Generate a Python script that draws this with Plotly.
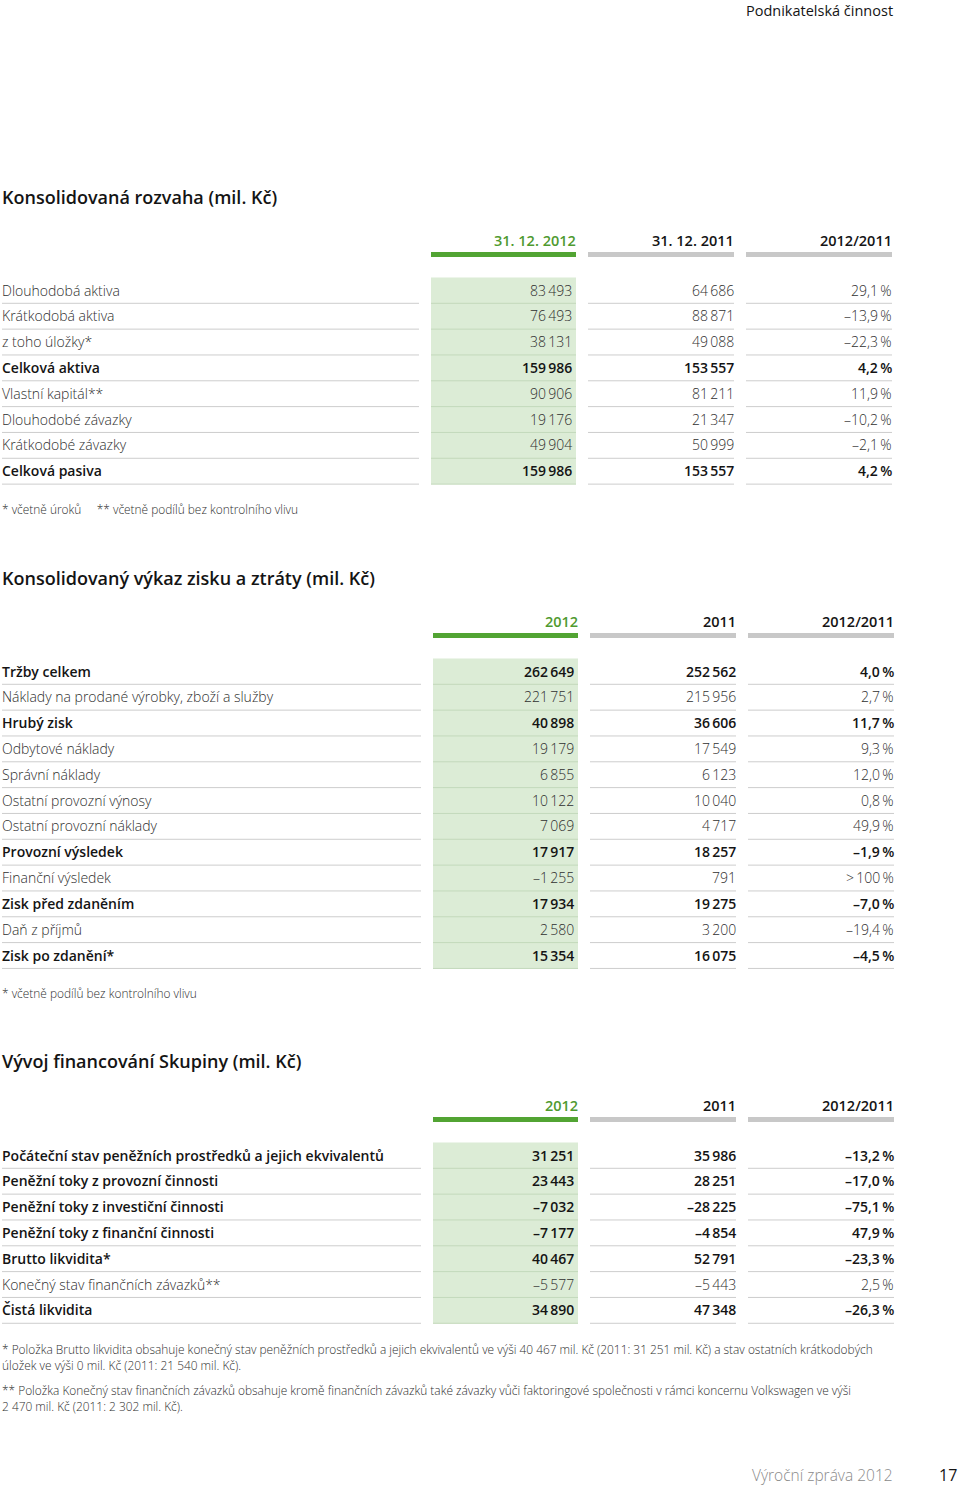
import plotly.graph_objects as go

# ---------------- DATA ----------------
s1_title = "Konsolidovaná rozvaha (mil. Kč)"
s1_headers = ["31. 12. 2012", "31. 12. 2011", "2012/2011"]
s1_labels = ["Dlouhodobá aktiva", "Krátkodobá aktiva", "z toho úložky*", "Celková aktiva",
             "Vlastní kapitál**", "Dlouhodobé závazky", "Krátkodobé závazky", "Celková pasiva"]
s1_cur = [83493, 76493, 38131, 159986, 90906, 19176, 49904, 159986]
s1_prev = [64686, 88871, 49088, 153557, 81211, 21347, 50999, 153557]
s1_chg = [29.1, -13.9, -22.3, 4.2, 11.9, -10.2, -2.1, 4.2]
s1_bold = [0, 0, 0, 1, 0, 0, 0, 1]
s1_notes = ["* včetně úroků     ** včetně podílů bez kontrolního vlivu"]

s2_title = "Konsolidovaný výkaz zisku a ztráty (mil. Kč)"
s2_headers = ["2012", "2011", "2012/2011"]
s2_labels = ["Tržby celkem", "Náklady na prodané výrobky, zboží a služby", "Hrubý zisk",
             "Odbytové náklady", "Správní náklady", "Ostatní provozní výnosy",
             "Ostatní provozní náklady", "Provozní výsledek", "Finanční výsledek",
             "Zisk před zdaněním", "Daň z příjmů", "Zisk po zdanění*"]
s2_cur = [262649, 221751, 40898, 19179, 6855, 10122, 7069, 17917, -1255, 17934, 2580, 15354]
s2_prev = [252562, 215956, 36606, 17549, 6123, 10040, 4717, 18257, 791, 19275, 3200, 16075]
s2_chg = [4.0, 2.7, 11.7, 9.3, 12.0, 0.8, 49.9, -1.9, None, -7.0, -19.4, -4.5]
s2_bold = [1, 0, 1, 0, 0, 0, 0, 1, 0, 1, 0, 1]
s2_notes = ["* včetně podílů bez kontrolního vlivu"]

s3_title = "Vývoj financování Skupiny (mil. Kč)"
s3_headers = ["2012", "2011", "2012/2011"]
s3_labels = ["Počáteční stav peněžních prostředků a jejich ekvivalentů",
             "Peněžní toky z provozní činnosti", "Peněžní toky z investiční činnosti",
             "Peněžní toky z finanční činnosti", "Brutto likvidita*",
             "Konečný stav finančních závazků**", "Čistá likvidita"]
s3_cur = [31251, 23443, -7032, -7177, 40467, -5577, 34890]
s3_prev = [35986, 28251, -28225, -4854, 52791, -5443, 47348]
s3_chg = [-13.2, -17.0, -75.1, 47.9, -23.3, 2.5, -26.3]
s3_bold = [1, 1, 1, 1, 1, 0, 1]
s3_notes = [
    "* Položka Brutto likvidita obsahuje konečný stav peněžních prostředků a jejich ekvivalentů ve výši 40 467 mil. Kč (2011: 31 251 mil. Kč) a stav ostatních krátkodobých",
    "úložek ve výši 0 mil. Kč (2011: 21 540 mil. Kč).",
    "** Položka Konečný stav finančních závazků obsahuje kromě finančních závazků také závazky vůči faktoringové společnosti v rámci koncernu Volkswagen ve výši",
    "2 470 mil. Kč (2011: 2 302 mil. Kč).",
]

page_header = "Podnikatelská činnost"
footer_text = "Výroční zpráva 2012"
page_number = "17"

# ---------------- STYLE ----------------
FONT = "Open Sans"
DARK = "#141414"
LIGHT = "#2f2f2f"
GREEN_TXT = "#4f9a2f"
GREEN_BAR = "#52a433"
GREEN_FILL = "#dcecd6"
GREEN_LINE = "#c3d9bb"
GREY_BAR = "#c8c8c8"
SEP = "#cdcdcd"
SP = "\u2009"


def fmt_num(v):
    s = f"{abs(v):,}".replace(",", SP)
    return ("–" if v < 0 else "") + s


def fmt_pct(v):
    if v is None:
        return ">" + SP + "100" + SP + "%"
    s = f"{abs(v):.1f}".replace(".", ",")
    return ("–" if v < 0 else "") + s + SP + "%"


fig = go.Figure()
ann = []
shapes = []


def text(x, y, t, size, color=DARK, weight=400, anchor="left"):
    ann.append(dict(x=x, y=y, xref="x", yref="y", text=t, showarrow=False,
                    xanchor=anchor, yanchor="middle",
                    font=dict(family=FONT, size=size, color=color, weight=weight)))


def rect(x0, x1, y0, y1, color):
    shapes.append(dict(type="rect", xref="x", yref="y", x0=x0, x1=x1, y0=y0, y1=y1,
                       fillcolor=color, line=dict(width=0), layer="below"))


def line(x0, x1, y, color):
    shapes.append(dict(type="line", xref="x", yref="y", x0=x0, x1=x1, y0=y, y1=y,
                       line=dict(color=color, width=1)))


def section(title, title_y, headers, labels, cur, prev, chg, bold, notes, note_ys,
            header_y, row0, dx, step=25.83):
    cols = [(431 + dx, 576 + dx), (588 + dx, 734 + dx), (746 + dx, 892 + dx)]
    text(0, title_y, title, 18, DARK, 600)
    for i, (h, (a, b)) in enumerate(zip(headers, cols)):
        text(b + 2, header_y, h, 14.5, GREEN_TXT if i == 0 else DARK, 600, "right")
        rect(a, b, header_y + 12, header_y + 17, GREEN_BAR if i == 0 else GREY_BAR)
    n = len(labels)
    top = row0 - 12.5
    rect(cols[0][0], cols[0][1], top, row0 + step * (n - 1) + 13.5, GREEN_FILL)
    for k in range(n):
        yc = row0 + step * k
        b = bold[k]
        w = 600 if b else 300
        col = DARK if b else LIGHT
        text(0, yc, labels[k], 14, col, w)
        text(cols[0][1] - 2, yc, fmt_num(cur[k]), 14, col, w, "right")
        text(cols[1][1] + 2, yc, fmt_num(prev[k]), 14, col, w, "right")
        text(cols[2][1] + 2, yc, fmt_pct(chg[k]), 14, col, w, "right")
        ly = yc + 13.3
        line(2, 419 + dx, ly, SEP)
        line(cols[0][0], cols[0][1], ly, GREEN_LINE)
        line(cols[1][0], cols[1][1], ly, SEP)
        line(cols[2][0], cols[2][1], ly, SEP)
    for t, y in zip(notes, note_ys):
        text(0, y, t, 11.9, LIGHT, 300)


section(s1_title, 197, s1_headers, s1_labels, s1_cur, s1_prev, s1_chg, s1_bold,
        s1_notes, [509], 240, 290, 0)
section(s2_title, 578, s2_headers, s2_labels, s2_cur, s2_prev, s2_chg, s2_bold,
        s2_notes, [993], 621, 671, 2)
section(s3_title, 1061, s3_headers, s3_labels, s3_cur, s3_prev, s3_chg, s3_bold,
        s3_notes, [1349, 1365, 1390, 1406], 1105, 1155, 2)

text(895, 10, page_header, 14.5, DARK, 400, "right")
text(895, 1475, footer_text, 15.5, "#8a8a8a", 300, "right")
text(959, 1475, page_number, 16, DARK, 500, "right")

fig.update_layout(
    width=960, height=1486,
    margin=dict(l=0, r=0, t=0, b=0),
    paper_bgcolor="white", plot_bgcolor="white",
    xaxis=dict(range=[0, 960], visible=False, fixedrange=True),
    yaxis=dict(range=[1486, 0], visible=False, fixedrange=True),
    annotations=ann, shapes=shapes, showlegend=False,
)
fig.write_html(
    "out.html",
    config={"displayModeBar": False},
    post_script="document.body.style.margin='0';document.body.style.overflow='hidden';",
)
